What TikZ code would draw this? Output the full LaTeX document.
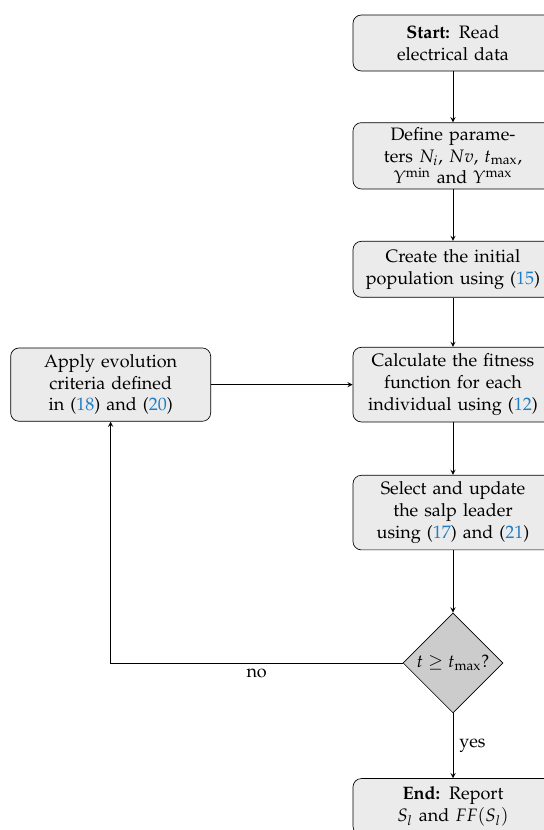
\documentclass[tikz,border=0pt]{standalone}
\usepackage{amstext, amsfonts, amsmath, amsbsy, amssymb}
\usepackage[T1]{fontenc}
\usepackage[slantedGreek]{mathpazo}
\usepackage{tikz}
\usetikzlibrary{positioning, shapes.geometric}
\definecolor{refblue}{RGB}{30,125,195}
\newcommand{\eqr}[1]{(\textcolor{refblue}{#1})}

\begin{document}
\fontsize{10.8}{12.96}\selectfont
\begin{tikzpicture}[node distance={30pt}, >=stealth, box/.style = {draw, rounded corners=5pt, fill=black!8, minimum width=120pt, minimum height=33.6pt, text width=114pt, align=center, inner ysep=4pt, inner xsep=2pt}, dec/.style = {draw, diamond, fill=black!20, minimum width=60pt, minimum height=60pt, inner sep=0pt}]
		\useasboundingbox (0,0) rectangle (326.4pt,-498pt);
		\node[box] (1) at (271.8pt,-25.8pt) {\textbf{Start:} Read\\ electrical data};
		\node[box, inner ysep=3pt] (2) [below=30.6pt of 1] {Define parame-\\ters $N_i$, $Nv$, $t_{\max}$,\\ $\Upsilon^{\min}$ and $\Upsilon^{\max}$};
		\node[box] (3) [below=31pt of 2] {Create the initial\\ population using \eqr{15}};
		\node[box] (4) [below=29.6pt of 3] {Calculate the fitness\\ function for each\\ individual using \eqr{12}};
		\node[box] (5) [below=31.6pt of 4] {Select and update\\ the salp leader\\ using \eqr{17} and \eqr{21}};
		\node[dec] (6) [below=37.4pt of 5] {$t \geq t_{\max}$?};
		\node[box] (7) [below=39pt of 6] {\textbf{End:} Report\\ $S_l$ and $FF(S_l)$};
		\node[box] (8) [left=85pt of 4] {Apply evolution\\ criteria defined\\ in \eqr{18} and \eqr{20}};
		
		\draw[->] (1) -- (2);
		\draw[->] (2) -- (3);
		\draw[->] (3) -- (4);
		\draw[->] (4) -- (5);
		\draw[->] (5) -- (6);
		\draw[->] (6) -- node[right] {yes} (7);
		\draw[->] (6) -| node[pos=0.25, below] {no} (8);
		\draw[->] (8) -- (4);
	\end{tikzpicture}
\end{document}
